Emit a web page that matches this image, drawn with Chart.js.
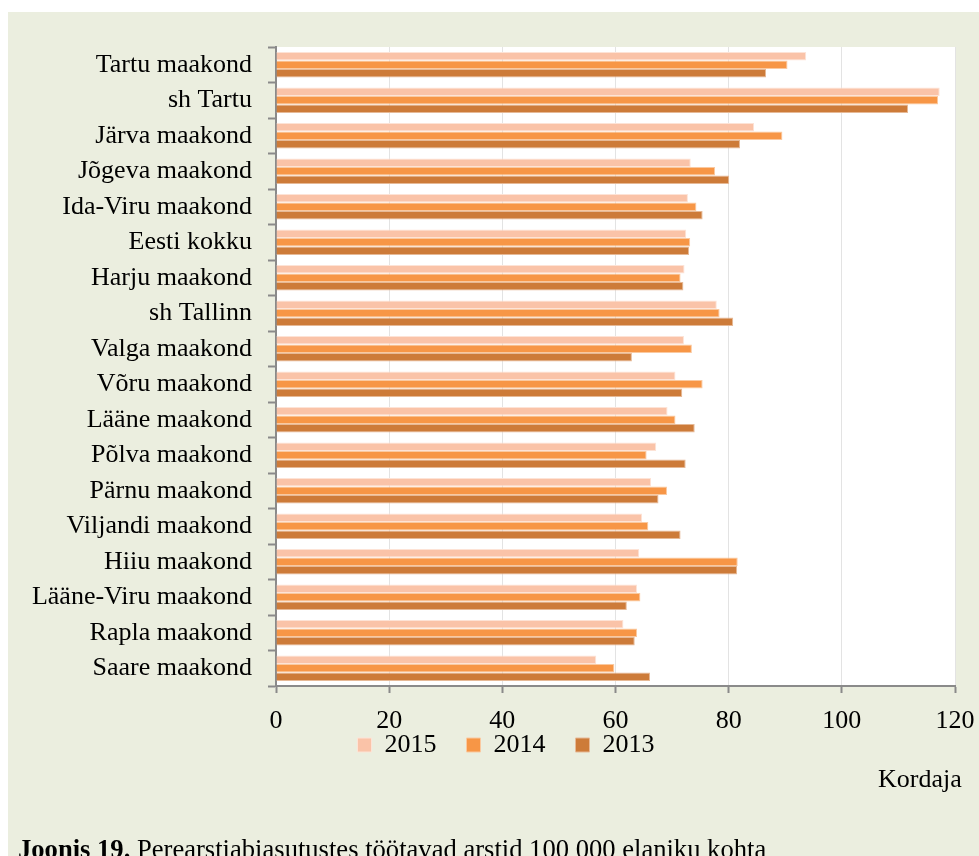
<!DOCTYPE html>
<html>
<head>
<meta charset="utf-8">
<script src="https://cdn.jsdelivr.net/npm/chart.js@4"></script>
<style>
  html, body { margin: 0; padding: 0; background: #ffffff; width: 979px; height: 856px; overflow: hidden; }
  #panel { position: absolute; left: 8px; top: 12px; width: 971px; height: 844px; background: #EBEEDF; overflow: hidden; }
  #wrap { position: absolute; left: 0; top: 0; width: 971px; height: 844px; }
  .txt { position: absolute; font-family: "Liberation Serif", "Times New Roman", serif; font-size: 26px; line-height: 26px; color: #000; white-space: nowrap; }
</style>
</head>
<body>
<div id="panel">
  <div id="wrap"><canvas id="c"></canvas></div>
  <div class="txt" style="left:870px; top:754px;">Kordaja</div>
  <div class="txt" style="left:10px; top:824px; font-size:26.6px;"><b>Joonis 19.</b> Perearstiabiasutustes töötavad arstid 100 000 elaniku kohta</div>
</div>
<script>
const categories = [
  "Tartu maakond", "sh Tartu", "Järva maakond", "Jõgeva maakond", "Ida-Viru maakond",
  "Eesti kokku", "Harju maakond", "sh Tallinn", "Valga maakond", "Võru maakond",
  "Lääne maakond", "Põlva maakond", "Pärnu maakond", "Viljandi maakond", "Hiiu maakond",
  "Lääne-Viru maakond", "Rapla maakond", "Saare maakond"
];
const values2015 = [93.7, 117.3, 84.5, 73.3, 72.8, 72.5, 72.2, 77.9, 72.1, 70.6, 69.2, 67.2, 66.3, 64.7, 64.2, 63.8, 61.4, 56.6];
const values2014 = [90.4, 117.0, 89.5, 77.6, 74.3, 73.2, 71.5, 78.4, 73.5, 75.4, 70.6, 65.5, 69.1, 65.8, 81.6, 64.4, 63.8, 59.8];
const values2013 = [86.6, 111.7, 82.0, 80.1, 75.4, 73.0, 72.0, 80.8, 62.9, 71.8, 74.0, 72.4, 67.6, 71.5, 81.5, 62.0, 63.4, 66.1];
const seriesLabels = ["2015", "2014", "2013"];
const xTicks = [0, 20, 40, 60, 80, 100, 120];

const FONT = "'Liberation Serif', 'Times New Roman', serif";
const AXIS = '#8A8A8A';

const plotBg = {
  id: 'plotBg',
  beforeDraw(chart) {
    const a = chart.chartArea, ctx = chart.ctx;
    ctx.save();
    ctx.fillStyle = '#ffffff';
    ctx.fillRect(a.left, a.top, a.right - a.left, a.bottom - a.top);
    ctx.restore();
  }
};

// place the legend row where the reference has it
const legendPlace = {
  id: 'legendPlace',
  afterLayout(chart) {
    const lg = chart.legend;
    if (!lg) return;
    const h = lg.height;
    lg.left = 49;
    lg.right = 947;
    lg.top = 690;
    lg.bottom = lg.top + h;
  }
};

new Chart(document.getElementById('c'), {
  type: 'bar',
  data: {
    labels: categories,
    datasets: [
      { label: seriesLabels[0], data: values2015, backgroundColor: '#FAC3A8', borderColor: '#FDE3D6', borderWidth: 1 },
      { label: seriesLabels[1], data: values2014, backgroundColor: '#F79646', borderColor: '#FAC9A0', borderWidth: 1 },
      { label: seriesLabels[2], data: values2013, backgroundColor: '#CD7B39', borderColor: '#E6B996', borderWidth: 1 }
    ]
  },
  plugins: [plotBg, legendPlace],
  options: {
    indexAxis: 'y',
    responsive: true,
    maintainAspectRatio: false,
    animation: false,
    datasets: { bar: { categoryPercentage: 0.72, barPercentage: 1.0 } },
    layout: { padding: { top: 35, right: 24, left: 0, bottom: 54 } },
    scales: {
      x: {
        min: 0, max: 120,
        afterBuildTicks(scale) { scale.ticks = xTicks.map(v => ({ value: v })); },
        ticks: { font: { family: FONT, size: 26 }, color: '#000', padding: 13, maxRotation: 0 },
        grid: { color: '#E3E3E3', lineWidth: 1, tickColor: AXIS, tickLength: 7, tickWidth: 2 },
        border: { color: AXIS, width: 2 },
        afterFit(scale) { scale.height = 50; scale.paddingLeft = 0; scale.paddingRight = 0; }
      },
      y: {
        ticks: { font: { family: FONT, size: 26 }, color: '#000', padding: 16, autoSkip: false },
        grid: { display: true, drawOnChartArea: false, drawTicks: true, tickLength: 8, tickColor: AXIS, tickWidth: 2, offset: true },
        border: { color: AXIS, width: 2 },
        afterFit(scale) { scale.width = 268; scale.paddingTop = 0; scale.paddingBottom = 0; }
      }
    },
    plugins: {
      legend: {
        position: 'bottom',
        labels: { font: { family: FONT, size: 26 }, color: '#000', boxWidth: 14, boxHeight: 14, padding: 30 }
      },
      tooltip: { enabled: false }
    }
  }
});
</script>
</body>
</html>
